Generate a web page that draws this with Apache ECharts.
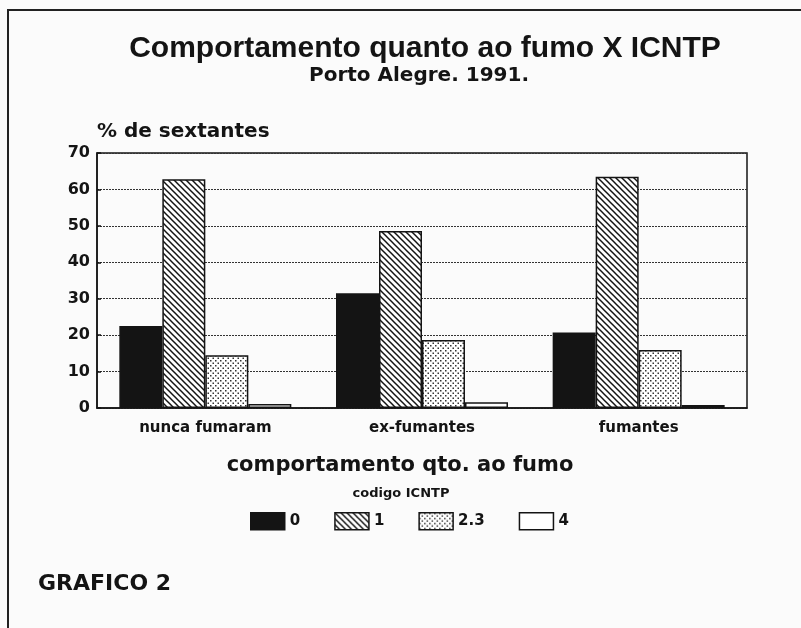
<!DOCTYPE html>
<html>
<head>
<meta charset="utf-8">
<script src="https://cdn.jsdelivr.net/npm/echarts@6/dist/echarts.min.js"></script>
<style>
  html, body { margin: 0; padding: 0; background: #fbfbfb; }
  #chart { width: 801px; height: 628px; }
</style>
</head>
<body>
<div id="chart"></div>
<script>
var categories = ['nunca fumaram', 'ex-fumantes', 'fumantes'];
var codes = ['0', '1', '2.3', '4'];
var code0 = [22.5, 31.5, 20.7];
var code1 = [62.8, 48.6, 63.5];
var code23 = [14.5, 18.7, 15.9];
var code4 = [1.1, 1.6, 0.8];
var yTicks = [0, 10, 20, 30, 40, 50, 60, 70];

var FONT = '"Liberation Sans", Arial, sans-serif';
var WIDE = '"DejaVu Sans", Verdana, sans-serif';
var INK = '#141414';

// hachura diagonal (\\\\)
function hatchPattern() {
    var s = 6;
    var c = document.createElement('canvas');
    c.width = s; c.height = s;
    var ctx = c.getContext('2d');
    ctx.fillStyle = '#fff';
    ctx.fillRect(0, 0, s, s);
    ctx.strokeStyle = INK;
    ctx.lineWidth = 1.5;
    for (var k = -1; k <= 1; k++) {
        ctx.beginPath();
        ctx.moveTo(k * s - 1, -1);
        ctx.lineTo(k * s + s + 1, s + 1);
        ctx.stroke();
    }
    return { image: c, repeat: 'repeat' };
}

// pontilhado
function dotPattern() {
    var s = 5;
    var c = document.createElement('canvas');
    c.width = s; c.height = s;
    var ctx = c.getContext('2d');
    ctx.fillStyle = '#fff';
    ctx.fillRect(0, 0, s, s);
    ctx.fillStyle = '#333';
    ctx.fillRect(0, 0, 1.5, 1.5);
    ctx.fillRect(2.5, 2.5, 1.5, 1.5);
    return { image: c, repeat: 'repeat' };
}

var fills = [INK, hatchPattern(), dotPattern(), '#ffffff'];
var values = [code0, code1, code23, code4];

var series = codes.map(function (name, i) {
    return {
        name: name,
        type: 'bar',
        barWidth: 43,
        barGap: '0%',
        itemStyle: {
            color: fills[i],
            borderColor: INK,
            borderWidth: 1.5
        },
        data: values[i]
    };
});

var myChart = echarts.init(document.getElementById('chart'));
var option = {
    backgroundColor: '#fbfbfb',
    animation: false,
    title: [
        {
            text: 'Comportamento quanto ao fumo X ICNTP',
            left: 420, textAlign: 'center',
            top: 29,
            textStyle: { fontFamily: FONT, fontSize: 30, fontWeight: 'bold', color: INK }
        },
        {
            text: 'Porto Alegre. 1991.',
            left: 414, textAlign: 'center',
            top: 61,
            textStyle: { fontFamily: WIDE, fontSize: 20, fontWeight: 'bold', color: INK }
        },
        {
            text: 'codigo ICNTP',
            left: 396, textAlign: 'center',
            top: 482,
            textStyle: { fontFamily: WIDE, fontSize: 13, fontWeight: 'bold', color: INK }
        },
        {
            text: 'GRAFICO 2',
            left: 33,
            top: 568,
            textStyle: { fontFamily: WIDE, fontSize: 22, fontWeight: 'bold', color: INK }
        }
    ],
    legend: {
        left: 245,
        top: 507,
        icon: 'rect',
        itemWidth: 34,
        itemHeight: 17,
        itemGap: 34,
        itemStyle: { borderColor: INK, borderWidth: 1.5 },
        textStyle: { fontFamily: WIDE, fontSize: 15, fontWeight: 'bold', color: INK },
        data: codes
    },
    grid: {
        left: 97,
        right: 54,
        top: 153,
        bottom: 220,
        show: true,
        borderColor: INK,
        borderWidth: 1.5,
        backgroundColor: 'transparent'
    },
    xAxis: {
        type: 'category',
        data: categories,
        name: 'comportamento qto. ao fumo',
        nameLocation: 'middle',
        nameGap: 47,
        nameTextStyle: {
            fontFamily: WIDE, fontSize: 21, fontWeight: 'bold', color: INK,
            padding: [0, 44, 0, 0]
        },
        axisLine: { lineStyle: { color: INK, width: 1.5 } },
        axisTick: { show: false },
        axisLabel: {
            margin: 13,
            fontFamily: WIDE, fontSize: 15, fontWeight: 'bold', color: INK
        }
    },
    yAxis: {
        type: 'value',
        min: 0,
        max: 70,
        interval: 10,
        name: '% de sextantes',
        nameLocation: 'end',
        nameGap: 11,
        nameTextStyle: {
            align: 'left',
            fontFamily: WIDE, fontSize: 20, fontWeight: 'bold', color: INK
        },
        axisLine: { show: true, lineStyle: { color: INK, width: 1.5 } },
        axisTick: { show: true, inside: true, length: 4, lineStyle: { color: INK, width: 1.5 } },
        axisLabel: {
            margin: 7,
            fontFamily: WIDE, fontSize: 16, fontWeight: 'bold', color: INK,
            formatter: function (v) { return yTicks.indexOf(v) >= 0 ? String(v) : ''; }
        },
        splitLine: { show: true, lineStyle: { color: '#333', width: 1, type: [2, 1] } }
    },
    graphic: [
        {
            type: 'polyline',
            shape: { points: [[8, 628], [8, 10], [801, 10]] },
            style: { stroke: '#222', lineWidth: 2, fill: null },
            silent: true
        }
    ],
    series: series
};
myChart.setOption(option);
</script>
</body>
</html>
